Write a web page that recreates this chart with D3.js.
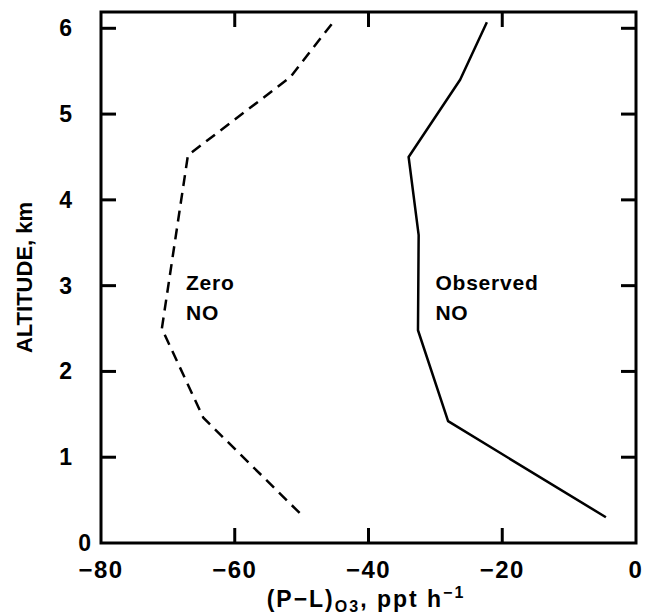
<!DOCTYPE html>
<html>
<head>
<meta charset="utf-8">
<script src="https://cdn.jsdelivr.net/npm/d3@7"></script>
<style>
  body { margin: 0; background: #fff; }
  text { font-family: "Liberation Sans", Arial, sans-serif; font-weight: bold; fill: #000; }
</style>
</head>
<body>
<div id="chart"></div>
<script>
const w = 647;
const h = 616;

// altitude (km) vs (P-L)O3 (ppt/h)
const zeroAlt = [0.35, 1.46, 2.5, 4.52, 5.43, 6.07];
const zeroPL = [-50.3, -64.7, -70.9, -67.0, -51.7, -45.3];
const obsAlt = [0.3, 1.42, 2.48, 3.59, 4.5, 5.4, 6.07];
const obsPL = [-4.5, -28.1, -32.6, -32.5, -34.0, -26.3, -22.3];
const xTicks = [-80, -60, -40, -20, 0];
const yTicks = [0, 1, 2, 3, 4, 5, 6];

const x = d3.scaleLinear().domain([-80, 0]).range([101, 636]);
const y = d3.scaleLinear().domain([0, 6.19]).range([543, 12]);

const svg = d3.select("#chart").append("svg").attr("width", w).attr("height", h);

const tickLen = 15;
const inner = (v, lo, hi) => v !== lo && v !== hi;

// frame
svg.append("rect")
  .attr("x", x(-80)).attr("y", y(6.19))
  .attr("width", x(0) - x(-80)).attr("height", y(0) - y(6.19))
  .attr("fill", "none").attr("stroke", "#000").attr("stroke-width", 3);

// inward ticks, all four sides
const xIn = xTicks.filter((d) => inner(d, -80, 0));
const yIn = yTicks.filter((d) => d !== 0);
const ticks = svg.append("g").attr("stroke", "#000").attr("stroke-width", 3);
ticks.selectAll(".tb").data(xIn).enter().append("line")
  .attr("x1", (d) => x(d)).attr("x2", (d) => x(d))
  .attr("y1", y(0)).attr("y2", y(0) - tickLen);
ticks.selectAll(".tt").data(xIn).enter().append("line")
  .attr("x1", (d) => x(d)).attr("x2", (d) => x(d))
  .attr("y1", y(6.19)).attr("y2", y(6.19) + tickLen);
ticks.selectAll(".tl").data(yIn).enter().append("line")
  .attr("y1", (d) => y(d)).attr("y2", (d) => y(d))
  .attr("x1", x(-80)).attr("x2", x(-80) + tickLen);
ticks.selectAll(".tr").data(yIn).enter().append("line")
  .attr("y1", (d) => y(d)).attr("y2", (d) => y(d))
  .attr("x1", x(0)).attr("x2", x(0) - tickLen);

// tick labels
svg.selectAll(".xl").data(xTicks).enter().append("text")
  .attr("x", (d) => x(d)).attr("y", 578)
  .attr("text-anchor", "middle").attr("font-size", 24)
  .attr("letter-spacing", 1.5)
  .text((d) => (d < 0 ? "\u2212" + Math.abs(d) : d));
svg.selectAll(".yl").data(yTicks).enter().append("text")
  .attr("x", (d) => (d === 0 ? 91 : 72)).attr("y", (d) => y(d) + 8)
  .attr("text-anchor", "end").attr("font-size", 23)
  .text((d) => d);

// axis titles
svg.append("text")
  .attr("transform", `translate(32, ${(y(0) + y(6.19)) / 2}) rotate(-90)`)
  .attr("text-anchor", "middle").attr("font-size", 22)
  .text("ALTITUDE, km");

const xt = svg.append("text")
  .attr("x", 366).attr("y", 607)
  .attr("text-anchor", "middle").attr("font-size", 23)
  .attr("letter-spacing", 2);
xt.append("tspan").text("(P\u2212L)");
xt.append("tspan").attr("font-size", 16).attr("dy", 5).text("O3");
xt.append("tspan").attr("dy", -5).text(", ppt h");
xt.append("tspan").attr("font-size", 16).attr("dy", -9).text("\u22121");

// profiles
const line = d3.line().x((d) => x(d[0])).y((d) => y(d[1]));
svg.append("path")
  .datum(zeroPL.map((v, i) => [v, zeroAlt[i]]))
  .attr("d", line).attr("fill", "none").attr("stroke", "#000")
  .attr("stroke-width", 2.5).attr("stroke-dasharray", "11,7");
svg.append("path")
  .datum(obsPL.map((v, i) => [v, obsAlt[i]]))
  .attr("d", line).attr("fill", "none").attr("stroke", "#000")
  .attr("stroke-width", 2.5).attr("stroke-linejoin", "round");

// annotations
const notes = [
  { t: "Zero", px: -67.3, alt: 2.95 },
  { t: "NO", px: -67.3, alt: 2.6 },
  { t: "Observed", px: -30.0, alt: 2.95 },
  { t: "NO", px: -30.0, alt: 2.6 }
];
svg.selectAll(".note").data(notes).enter().append("text")
  .attr("x", (d) => x(d.px)).attr("y", (d) => y(d.alt))
  .attr("font-size", 21).attr("letter-spacing", 0.8)
  .text((d) => d.t);
</script>
</body>
</html>
